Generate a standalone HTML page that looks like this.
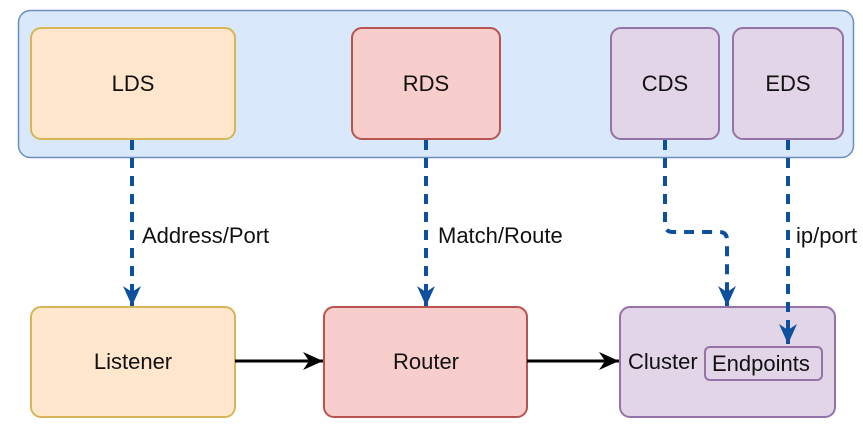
<!DOCTYPE html>
<html><head><style>body{margin:0;background:#fff}</style></head><body>
<svg width="863" height="430" xmlns="http://www.w3.org/2000/svg" font-family="Liberation Sans, sans-serif" font-size="22">
<defs>
<marker id="b" markerWidth="20" markerHeight="18" refX="20" refY="9" orient="auto" markerUnits="userSpaceOnUse" viewBox="0 0 20 18"><path d="M0,0 L20,9 L0,18 L6,9z" fill="#0e4f9e"/></marker>
<marker id="k" markerWidth="20" markerHeight="18" refX="20" refY="9" orient="auto" markerUnits="userSpaceOnUse" viewBox="0 0 20 18"><path d="M0,0 L20,9 L0,18 L6,9z" fill="#000"/></marker>
</defs>
<rect x="18.5" y="10.5" width="835" height="147" rx="12" fill="#dae8fc" stroke="#6c8ebf" stroke-width="1.5"/>
<rect x="31" y="28" width="204" height="111" rx="10" fill="#ffe6cc" stroke="#d6b656" stroke-width="2"/>
<rect x="352" y="28" width="148" height="111" rx="10" fill="#f8cecc" stroke="#b85450" stroke-width="2"/>
<rect x="611" y="28" width="108" height="111" rx="10" fill="#e1d5e7" stroke="#9673a6" stroke-width="2"/>
<rect x="733" y="28" width="110" height="111" rx="10" fill="#e1d5e7" stroke="#9673a6" stroke-width="2"/>
<rect x="31" y="307" width="204" height="110" rx="10" fill="#ffe6cc" stroke="#d6b656" stroke-width="2"/>
<rect x="324" y="307" width="203" height="110" rx="10" fill="#f8cecc" stroke="#b85450" stroke-width="2"/>
<rect x="620" y="307" width="215" height="110" rx="10" fill="#e1d5e7" stroke="#9673a6" stroke-width="2"/>
<rect x="705" y="347" width="117" height="33" rx="5" fill="#e1d5e7" stroke="#9673a6" stroke-width="2"/>
<g fill="#111" text-anchor="middle">
<text x="133" y="91">LDS</text><text x="426" y="91">RDS</text><text x="665" y="91">CDS</text><text x="788" y="91">EDS</text>
<text x="133" y="369">Listener</text><text x="426" y="369">Router</text>
</g>
<g fill="#111">
<text x="628" y="369">Cluster</text><text x="712" y="371">Endpoints</text>
<text x="142" y="243">Address/Port</text><text x="438" y="243">Match/Route</text><text x="796" y="243">ip/port</text>
</g>
<g stroke="#0e4f9e" stroke-width="4" fill="none" stroke-dasharray="10,8">
<path d="M132,140 V306" marker-end="url(#b)"/>
<path d="M426,140 V306" marker-end="url(#b)"/>
<path d="M665,140 V224 Q665,232 673,232 H719 Q727,232 727,240 V306" marker-end="url(#b)"/>
<path d="M788,140 V344" marker-end="url(#b)"/>
</g>
<g stroke="#000" stroke-width="3">
<path d="M235,361 H323" marker-end="url(#k)"/>
<path d="M527,361 H619" marker-end="url(#k)"/>
</g>
</svg>
</body></html>
